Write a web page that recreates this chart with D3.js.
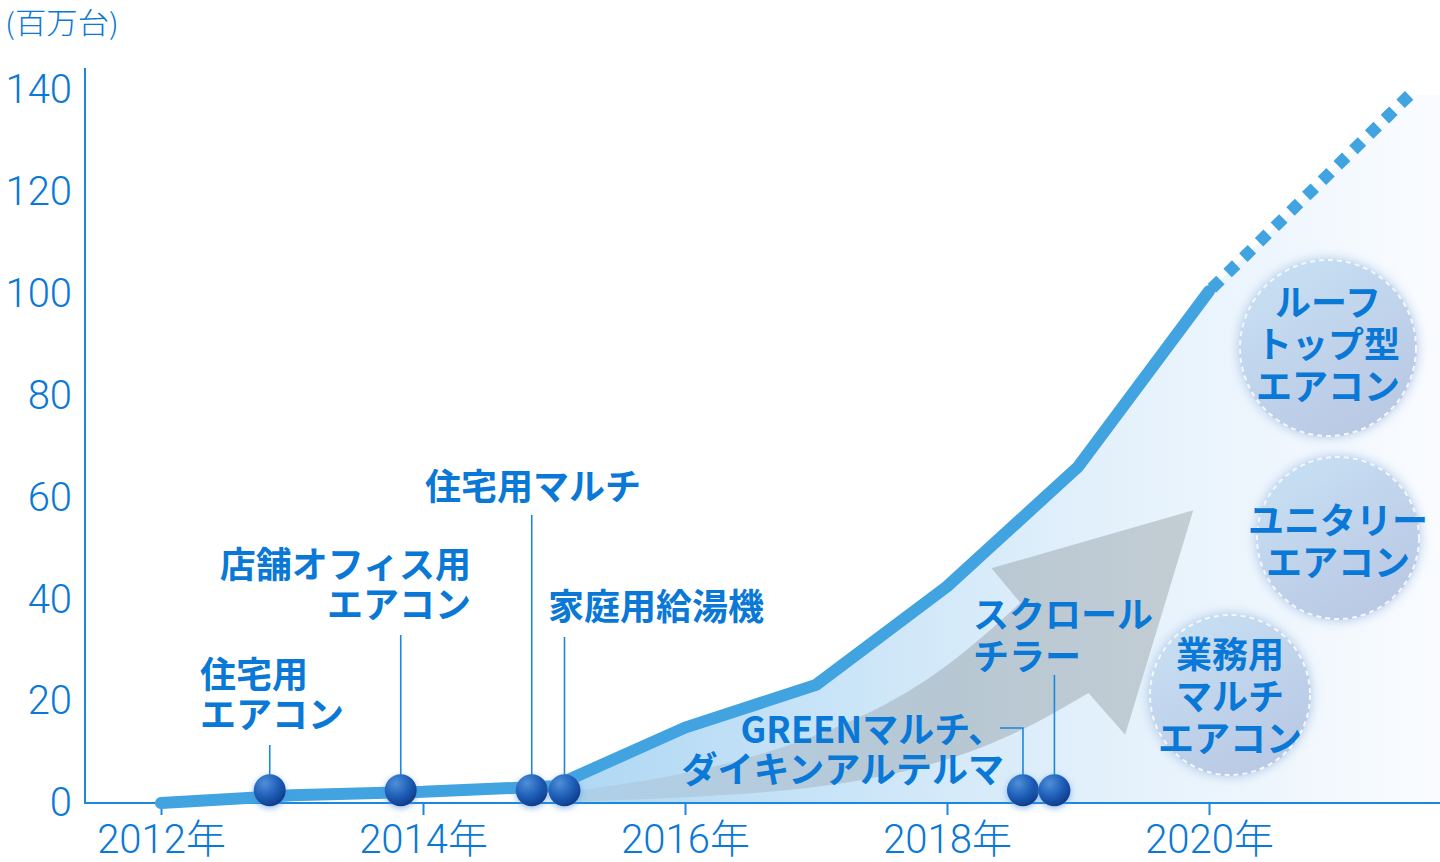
<!DOCTYPE html>
<html><head><meta charset="utf-8">
<script src="https://cdn.jsdelivr.net/npm/d3@7/dist/d3.min.js"></script>
<style>body{margin:0;background:#fff;}svg{display:block}</style>
</head><body>
<svg id="chart" width="1440" height="862"></svg>
<script>
// ---- data ----
const years = [2012, 2013, 2014, 2015, 2016, 2017, 2018, 2019, 2020];
const units = [0, 1.5, 2.2, 3.3, 14.8, 23.2, 42.5, 66, 100.5];
const projYears = [2020, 2021.53];
const projUnits = [100.5, 139];
const yTicks = [0, 20, 40, 60, 80, 100, 120, 140];
const xTicks = [2012, 2014, 2016, 2018, 2020];
const xTickLabels = ["2012年", "2014年", "2016年", "2018年", "2020年"];
const unitLabel = "(百万台)";
const eventYears = [2012.83, 2013.83, 2014.83, 2015.08, 2018.58, 2018.82];
const eventLevel = 2.5;
const eventLines = [["住宅用", "エアコン"], ["店舗オフィス用", "エアコン"], ["住宅用マルチ"], ["家庭用給湯機"], ["GREENマルチ、", "ダイキンアルテルマ"], ["スクロール", "チラー"]];
const futureLines = [["ルーフ", "トップ型", "エアコン"], ["ユニタリー", "エアコン"], ["業務用", "マルチ", "エアコン"]];

// ---- layout ----
const svg = d3.select("#chart");
const W = 1440;
const x = d3.scaleLinear().domain([2012, 2020]).range([161, 1209]);
const y = d3.scaleLinear().domain([0, 140]).range([803, 90]);
const BLUE = "#0a78d6", AXIS = "#1b87de", LINE = "#42a3e1";
const JP = "'Noto Sans CJK JP','Noto Sans',sans-serif";
const NUM = "Roboto,'Noto Sans CJK JP',sans-serif";

const defs = svg.append("defs");
const ag = defs.append("linearGradient").attr("id", "areaG").attr("gradientUnits", "userSpaceOnUse")
  .attr("x1", 560).attr("x2", W).attr("y1", 0).attr("y2", 0);
ag.append("stop").attr("offset", 0).attr("stop-color", "#aed7f4");
ag.append("stop").attr("offset", 0.6).attr("stop-color", "#e2f0fb");
ag.append("stop").attr("offset", 1).attr("stop-color", "#fafcff");
const arg = defs.append("linearGradient").attr("id", "arrowG").attr("gradientUnits", "userSpaceOnUse")
  .attr("x1", 565).attr("x2", 1190).attr("y1", 0).attr("y2", 0);
arg.append("stop").attr("offset", 0).attr("stop-color", "#9fb2c2").attr("stop-opacity", 0.2);
arg.append("stop").attr("offset", 0.6).attr("stop-color", "#b1c1cc").attr("stop-opacity", 0.85);
arg.append("stop").attr("offset", 1).attr("stop-color", "#c3cdd4").attr("stop-opacity", 1);
const cg = defs.append("radialGradient").attr("id", "ballG").attr("cx", "35%").attr("cy", "28%").attr("r", "75%");
cg.append("stop").attr("offset", 0).attr("stop-color", "#4f8fd8");
cg.append("stop").attr("offset", 0.55).attr("stop-color", "#2060b9");
cg.append("stop").attr("offset", 1).attr("stop-color", "#0d3c8a");
const bg = defs.append("linearGradient").attr("id", "bubG").attr("x1", 0).attr("y1", 0).attr("x2", 0.6).attr("y2", 1);
bg.append("stop").attr("offset", 0).attr("stop-color", "#c8e2f5");
bg.append("stop").attr("offset", 1).attr("stop-color", "#bac9e4");
const f1 = defs.append("filter").attr("id", "bubShadow").attr("x", "-30%").attr("y", "-30%").attr("width", "160%").attr("height", "160%");
f1.append("feDropShadow").attr("dx", 0).attr("dy", 0).attr("stdDeviation", 6).attr("flood-color", "#8fb0dc").attr("flood-opacity", 0.7);
const f2 = defs.append("filter").attr("id", "ballShadow").attr("x", "-50%").attr("y", "-50%").attr("width", "200%").attr("height", "200%");
f2.append("feDropShadow").attr("dx", 0).attr("dy", 2).attr("stdDeviation", 3).attr("flood-color", "#4d8fe0").attr("flood-opacity", 0.6);

// ---- area (from 2015 on, incl. projection, running to the plot's right edge) ----
const pts = years.map((yr, i) => [yr, units[i]]);
const areaPts = pts.filter(p => p[0] >= 2015).concat([[projYears[1], projUnits[1]], [x.invert(W), projUnits[1]]]);
svg.append("path")
  .attr("d", d3.area().x(d => x(d[0])).y0(y(0)).y1(d => y(d[1]))(areaPts))
  .attr("fill", "url(#areaG)");

// ---- growth arrow (decorative, in data space) ----
const upper = [[2015.05, 2.0], [2016.34, 7.9], [2017.63, 20.8], [2018.56, 39.3]];
const head = [[2018.34, 46.1], [2019.88, 57.5], [2019.36, 13.4]];
const lower = [[2019.08, 21.6], [2018.27, 11.0], [2016.98, 3.1], [2015.05, 0.2]];
const cl = d3.line().x(d => x(d[0])).y(d => y(d[1])).curve(d3.curveNatural);
const arrowD = cl(upper) + head.map(p => "L" + x(p[0]) + "," + y(p[1])).join("") + cl(lower).replace(/^M/, "L") + "Z";
svg.append("path").attr("d", arrowD).attr("fill", "url(#arrowG)");

// ---- axes ----
svg.append("line").attr("x1", 85).attr("x2", 85).attr("y1", 68).attr("y2", y(0))
  .attr("stroke", AXIS).attr("stroke-width", 2);
svg.append("line").attr("x1", 84).attr("x2", W).attr("y1", y(0)).attr("y2", y(0))
  .attr("stroke", AXIS).attr("stroke-width", 2);

const ya = svg.append("g").attr("transform", "translate(85,0)")
  .call(d3.axisLeft(y).tickValues(yTicks).tickSize(0).tickPadding(13));
ya.select(".domain").remove();
ya.selectAll("text").attr("fill", BLUE).attr("font-family", NUM).attr("font-weight", 300).attr("font-size", 40);

const xa = svg.append("g").attr("transform", `translate(0,${y(0)})`)
  .call(d3.axisBottom(x).tickValues(xTicks).tickSize(12).tickPadding(10).tickFormat((d, i) => xTickLabels[i]));
xa.select(".domain").remove();
xa.selectAll("line").attr("stroke", AXIS).attr("stroke-width", 2);
xa.selectAll("text").attr("fill", BLUE).attr("font-family", NUM).attr("font-weight", 300).attr("font-size", 40);

svg.append("text").attr("x", 5).attr("y", 34).text(unitLabel)
  .attr("fill", BLUE).attr("font-family", JP).attr("font-weight", 300).attr("font-size", 29)
  .attr("textLength", 114).attr("lengthAdjust", "spacingAndGlyphs");

// ---- main line ----
svg.append("path")
  .attr("d", d3.line().x(d => x(d[0])).y(d => y(d[1]))(pts))
  .attr("fill", "none").attr("stroke", LINE).attr("stroke-width", 12)
  .attr("stroke-linecap", "round").attr("stroke-linejoin", "bevel");
svg.append("path")
  .attr("d", d3.line().x(d => x(d[0])).y(d => y(d[1]))(projYears.map((yr, i) => [yr, projUnits[i]])))
  .attr("fill", "none").attr("stroke", LINE).attr("stroke-width", 12)
  .attr("stroke-dasharray", "12 10").attr("stroke-dashoffset", -4);

// ---- event labels ----
const lay = [
  {anchor: "start", tx: 200, ty: 675, top: 745},
  {anchor: "end", tx: 471, ty: 565, top: 635},
  {anchor: "start", tx: 425, ty: 487, top: 515},
  {anchor: "start", tx: 548, ty: 607, top: 637},
  {anchor: "end", tx: 1004, ty: 730, top: 728, elbow: 1000},
  {anchor: "start", tx: 973, ty: 615, top: 675}
];
eventYears.forEach((yr, i) => {
  const L = lay[i], cx = x(yr);
  if (L.elbow) {
    svg.append("path").attr("d", `M${L.elbow},${L.top}H${cx}V${y(eventLevel)}`)
      .attr("fill", "none").attr("stroke", AXIS).attr("stroke-width", 1.6);
  } else {
    svg.append("line").attr("x1", cx).attr("x2", cx).attr("y1", L.top).attr("y2", y(eventLevel))
      .attr("stroke", AXIS).attr("stroke-width", 1.6);
  }
  const t = svg.append("text").attr("text-anchor", L.anchor).attr("fill", BLUE)
    .attr("font-family", JP).attr("font-weight", 700).attr("font-size", 36);
  eventLines[i].forEach((s, j) => {
    t.append("tspan").attr("x", L.tx).attr("y", L.ty + j * (i === 5 ? 42 : 40) + 13).text(s);
  });
});
svg.selectAll("circle.ball").data(eventYears).join("circle").attr("class", "ball")
  .attr("cx", d => x(d)).attr("cy", y(eventLevel)).attr("r", 16)
  .attr("fill", "url(#ballG)").attr("filter", "url(#ballShadow)");

// ---- future bubbles ----
const bubLay = [
  {cx: 1328, cy: 348, r: 89, ty: 303},
  {cx: 1338, cy: 538, r: 82, ty: 521},
  {cx: 1230, cy: 695, r: 81, ty: 655}
];
futureLines.forEach((lines, i) => {
  const B = bubLay[i];
  svg.append("circle").attr("cx", B.cx).attr("cy", B.cy).attr("r", B.r)
    .attr("fill", "url(#bubG)").attr("filter", "url(#bubShadow)");
  svg.append("circle").attr("cx", B.cx).attr("cy", B.cy).attr("r", B.r - 1)
    .attr("fill", "none").attr("stroke", "#f4f8fc").attr("stroke-width", 2).attr("stroke-dasharray", "5 4");
  const t = svg.append("text").attr("text-anchor", "middle").attr("fill", BLUE)
    .attr("font-family", JP).attr("font-weight", 700).attr("font-size", 36);
  lines.forEach((s, j) => {
    t.append("tspan").attr("x", B.cx).attr("y", B.ty + j * 42 + 13).text(s);
  });
});
</script>
</body></html>
